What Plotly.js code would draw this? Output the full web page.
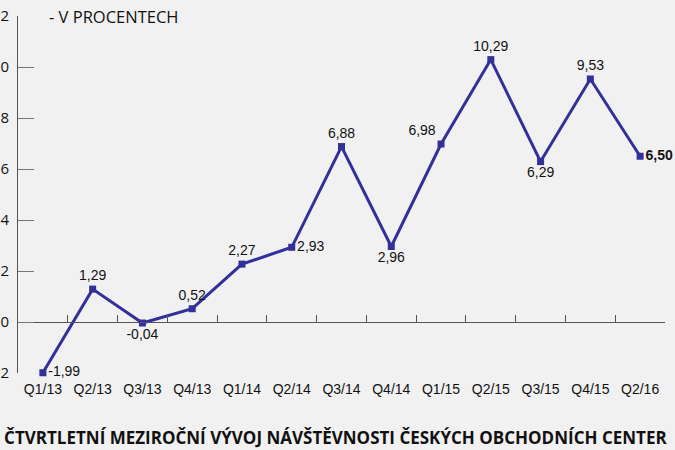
<!DOCTYPE html>
<html><head><meta charset="utf-8">
<script src="https://cdn.plot.ly/plotly-3.0.1.min.js"></script>
<style>html,body{margin:0;padding:0;background:#f1f1f1;}#chart{width:675px;height:450px;}</style>
</head><body><div id="chart"></div>
<script>
const categories = ["Q1/13","Q2/13","Q3/13","Q4/13","Q1/14","Q2/14","Q3/14","Q4/14","Q1/15","Q2/15","Q3/15","Q4/15","Q2/16"];
const values = [-1.99, 1.29, -0.04, 0.52, 2.27, 2.93, 6.88, 2.96, 6.98, 10.29, 6.29, 9.53, 6.50];
const labelPositions = ["middle right","top center","bottom center","top center","top center","middle right","top center","bottom center","top left","top center","bottom center","top center","middle right"];
const yTicks = [-2, 0, 2, 4, 6, 8, 10, 12];

const labels = values.map((v, i) => {
  const s = v.toFixed(2).replace('.', ',');
  return i === values.length - 1 ? '<b>' + s + '</b>' : s;
});

const xIdx = categories.map((c, i) => i);
const boundaries = categories.map((c, i) => i - 0.5).concat([categories.length - 0.5]);

const trace = {
  x: xIdx, y: values, type: 'scatter', mode: 'lines+markers+text',
  line: {color: '#33309a', width: 3},
  marker: {symbol: 'square', size: 7, color: '#33309a'},
  text: labels, textposition: labelPositions,
  textfont: {family: 'Liberation Sans, Arial, sans-serif', size: 14, color: '#111'},
  cliponaxis: false, hoverinfo: 'none', xaxis: 'x', yaxis: 'y'
};
const axisTrace = {x: xIdx, y: values, type: 'scatter', mode: 'none', xaxis: 'x2', yaxis: 'y', hoverinfo: 'none', showlegend: false};

const layout = {
  width: 675, height: 450,
  margin: {l: 18, r: 10, t: 16, b: 77},
  paper_bgcolor: '#f1f1f1', plot_bgcolor: '#f1f1f1',
  showlegend: false,
  font: {family: 'Liberation Sans, Arial, sans-serif', color: '#111'},
  xaxis: {
    range: [-0.5, 12.5], tickmode: 'array', tickvals: xIdx, ticktext: categories,
    showline: false, showgrid: false, zeroline: false, ticks: '',
    tickfont: {size: 14, color: '#111'}, ticklabelstandoff: 6
  },
  xaxis2: {
    overlaying: 'x', anchor: 'free', position: 2/14, side: 'bottom',
    range: [-0.5, 12.5], tickmode: 'array', tickvals: boundaries,
    showline: true, linecolor: '#555', linewidth: 1,
    ticks: 'inside', ticklen: 7, tickcolor: '#555', tickwidth: 1,
    showticklabels: false, showgrid: false, zeroline: false
  },
  yaxis: {
    range: [-2, 12], tickmode: 'array', tickvals: yTicks,
    ticktext: yTicks.map(String),
    showline: true, linecolor: '#555', linewidth: 1,
    ticks: 'inside', ticklen: 16, tickcolor: '#777', tickwidth: 1,
    showgrid: false, zeroline: false,
    tickfont: {size: 15, color: '#111', family: 'Open Sans, sans-serif'}, ticklabelstandoff: 5
  },
  title: {
    text: '<b>ČTVRTLETNÍ MEZIROČNÍ VÝVOJ NÁVŠTĚVNOSTI ČESKÝCH OBCHODNÍCH CENTER</b>',
    xref: 'container', yref: 'container', x: 0.006, xanchor: 'left', y: 0.027, yanchor: 'middle',
    font: {family: 'Open Sans, sans-serif', size: 17, color: '#111'}
  },
  annotations: [{
    text: '- V PROCENTECH', xref: 'paper', yref: 'paper', x: 0.045, y: 1.0,
    xanchor: 'left', yanchor: 'middle', showarrow: false,
    font: {family: 'Open Sans, sans-serif', size: 16.5, color: '#111'}
  }]
};

Plotly.newPlot('chart', [trace, axisTrace], layout, {displayModeBar: false, staticPlot: true});
</script></body></html>
